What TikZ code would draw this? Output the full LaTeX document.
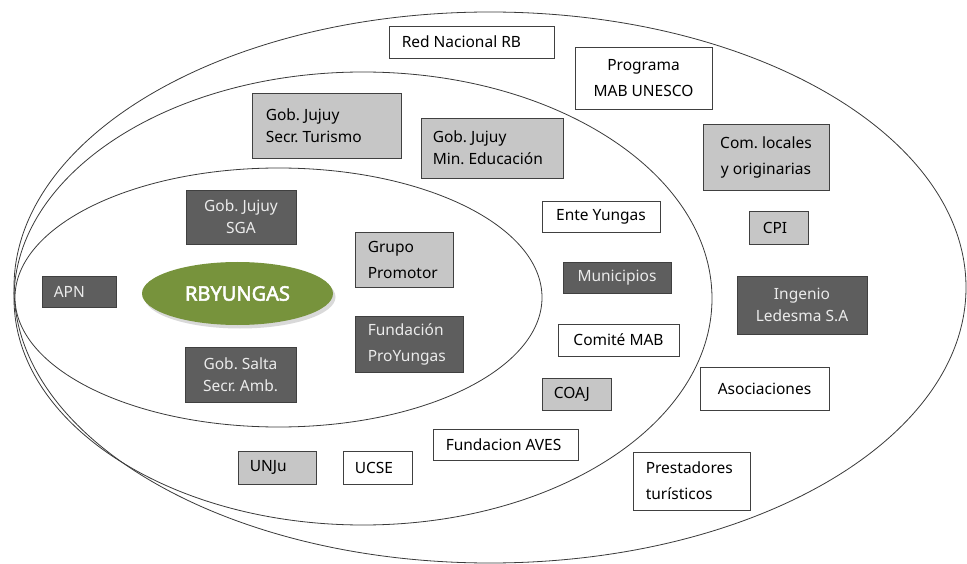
\documentclass[tikz,border=0pt]{standalone}
\usepackage{fontspec}
\setmainfont{Noto Sans}[AutoFakeBold=2.5]
\usetikzlibrary{shapes.geometric}
\definecolor{lightbox}{HTML}{C6C6C6}
\definecolor{darkbox}{HTML}{5E5E5E}
\definecolor{rbgreen}{HTML}{77933C}
\definecolor{ringline}{HTML}{3A3A3A}
\begin{document}
\begin{tikzpicture}[x=1pt,y=-1pt,
  ring/.style={draw=ringline, line width=0.8pt},
  bx/.style={draw=black!75, line width=0.9pt, rectangle, inner sep=0pt},
  wbox/.style={bx, fill=white, text=black},
  lbox/.style={bx, fill=lightbox, text=black},
  dbox/.style={bx, fill=darkbox, text=white!92!black},
  lab/.style={font=\fontsize{15.5}{22}\selectfont, align=center},
  labw/.style={font=\fontsize{15.5}{26}\selectfont, align=center},
  ltxt/.style={anchor=west, inner sep=0pt, align=left, font=\fontsize{15.5}{22}\selectfont},
  ltxtw/.style={anchor=west, inner sep=0pt, align=left, font=\fontsize{15.5}{26}\selectfont},
]
\useasboundingbox (0,0) rectangle (967,564);
\fill[white] (0,0) rectangle (967,564);

% rings
\draw[ring] (490,287.5) ellipse [x radius=476pt, y radius=275.5pt];
\draw[ring] (363,298.5) ellipse [x radius=349pt, y radius=226.5pt];
\draw[ring] (278.5,297.5) ellipse [x radius=263.5pt, y radius=129.5pt];

% centre
\fill[black!15] (240,297) ellipse [x radius=95.5pt, y radius=31.5pt];
\node[ellipse, fill=rbgreen, minimum width=191pt, minimum height=63pt, inner sep=0pt,
      text=white, font=\fontsize{20}{22}\selectfont\bfseries] (rb) at (237.5,293.5) {RBYUNGAS};

% inner ring
\node[dbox, minimum width=110pt, minimum height=54pt, lab] (sga) at (241,217) {Gob.\ Jujuy\\SGA};
\node[lbox, minimum width=98pt, minimum height=55pt] (grupo) at (404,259.5) {};
\node[ltxtw] (grupot) at ([xshift=13pt]grupo.west) {Grupo\\Promotor};
\node[dbox, minimum width=74pt, minimum height=31pt] (apn) at (79,291.5) {};
\node[ltxt, text=white!92!black] (apnt) at ([xshift=12pt]apn.west) {APN};
\node[dbox, minimum width=108pt, minimum height=56pt] (proy) at (409,344) {};
\node[ltxtw, text=white!92!black] (proyt) at ([xshift=13pt]proy.west) {Fundación\\ProYungas};
\node[dbox, minimum width=111pt, minimum height=55pt, lab] (salta) at (240.5,374.5) {Gob.\ Salta\\Secr.\ Amb.};

% middle ring
\node[lbox, minimum width=149pt, minimum height=65pt] (tur) at (326.5,125.5) {};
\node[ltxt] (turt) at ([xshift=14pt]tur.west) {Gob.\ Jujuy\\Secr.\ Turismo};
\node[lbox, minimum width=142pt, minimum height=60pt] (edu) at (492,148) {};
\node[ltxt] (edut) at ([xshift=12pt]edu.west) {Gob.\ Jujuy\\Min.\ Educación};
\node[wbox, minimum width=118pt, minimum height=31pt, lab] (ente) at (601,216.5) {Ente Yungas};
\node[dbox, minimum width=108pt, minimum height=31pt, lab] (mun) at (617,277.5) {Municipios};
\node[wbox, minimum width=121pt, minimum height=32pt, lab] (comite) at (618.5,340) {Comité MAB};
\node[lbox, minimum width=69pt, minimum height=32pt] (coaj) at (576.5,394) {};
\node[ltxt] (coajt) at ([xshift=12pt]coaj.west) {COAJ};
\node[wbox, minimum width=145pt, minimum height=31pt] (aves) at (505.5,444.5) {};
\node[ltxt] (avest) at ([xshift=13pt]aves.west) {Fundacion AVES};
\node[lbox, minimum width=78pt, minimum height=33pt] (unju) at (277,467.5) {};
\node[ltxt] (unjut) at ([xshift=12pt]unju.west) {UNJu};
\node[wbox, minimum width=69pt, minimum height=33pt] (ucse) at (377.5,467.5) {};
\node[ltxt] (ucset) at ([xshift=12pt]ucse.west) {UCSE};

% outer ring
\node[wbox, minimum width=165pt, minimum height=32pt] (red) at (471.5,42) {};
\node[ltxt] (redt) at ([xshift=13pt]red.west) {Red Nacional RB};
\node[wbox, minimum width=137pt, minimum height=62pt, labw] (mab) at (643.5,78) {Programa\\MAB UNESCO};
\node[lbox, minimum width=126pt, minimum height=66pt, labw] (com) at (766,157) {Com.\ locales\\y originarias};
\node[lbox, minimum width=59pt, minimum height=33pt] (cpi) at (778.5,227.5) {};
\node[ltxt] (cpit) at ([xshift=14pt]cpi.west) {CPI};
\node[dbox, minimum width=130pt, minimum height=58pt, lab] (ing) at (802,305) {Ingenio\\Ledesma S.A};
\node[wbox, minimum width=129pt, minimum height=43pt, lab] (asoc) at (764.5,388.5) {Asociaciones};
\node[wbox, minimum width=117pt, minimum height=58pt] (prest) at (691.5,481) {};
\node[ltxtw] (prestt) at ([xshift=13pt]prest.west) {Prestadores\\turísticos};
\end{tikzpicture}
\end{document}
